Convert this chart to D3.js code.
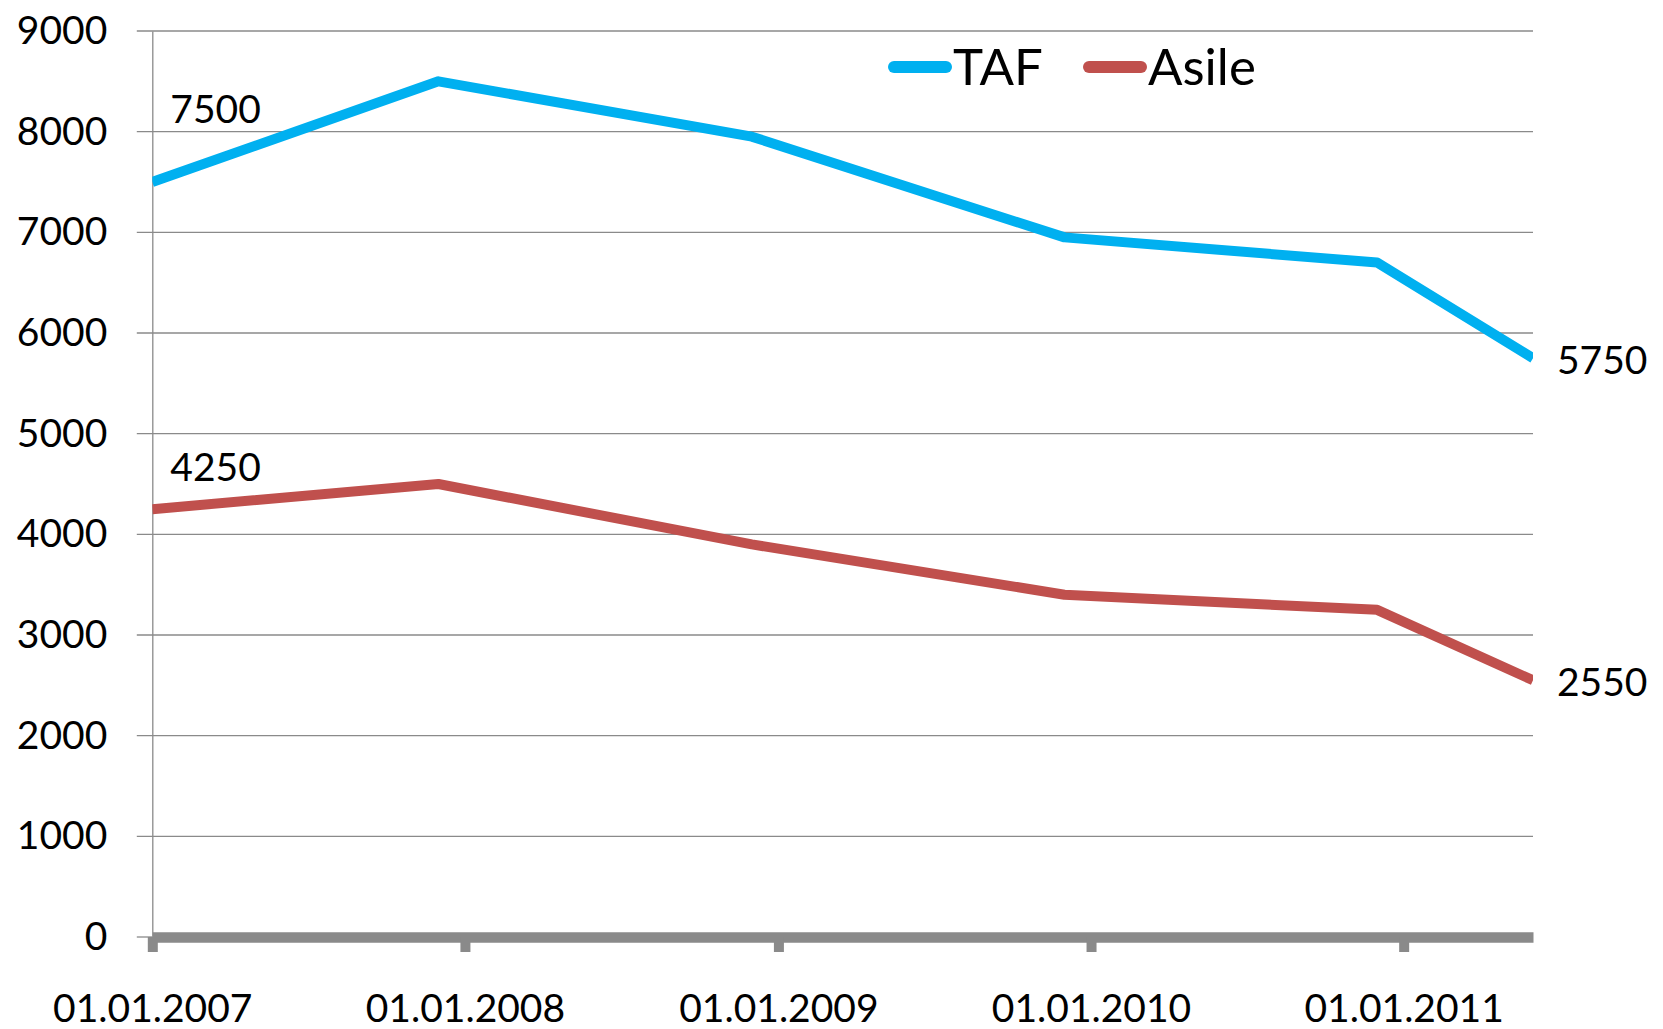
<!DOCTYPE html>
<html>
<head>
<meta charset="utf-8">
<script src="https://cdn.jsdelivr.net/npm/d3@7/dist/d3.min.js"></script>
<style>
  body { margin: 0; background: #fff; }
  svg { display: block; font-family: Lato, "Open Sans", sans-serif; }
</style>
</head>
<body>
<svg id="chart" width="1663" height="1029"></svg>
<script>
// data
const dates = ["2007-01-01", "2007-12-01", "2008-12-01", "2009-12-01", "2010-12-01", "2011-06-01"];
const tafValues = [7500, 8500, 7950, 6950, 6700, 5750];
const asileValues = [4250, 4500, 3900, 3400, 3250, 2550];
const seriesNames = ["TAF", "Asile"];
const seriesColors = ["#00b0f0", "#c0504d"];
const yTicks = [0, 1000, 2000, 3000, 4000, 5000, 6000, 7000, 8000, 9000];
const xTickDates = ["2007-01-01", "2008-01-01", "2009-01-01", "2010-01-01", "2011-01-01"];
const xTickLabels = ["01.01.2007", "01.01.2008", "01.01.2009", "01.01.2010", "01.01.2011"];

const parse = d3.utcParse("%Y-%m-%d");
const svg = d3.select('#chart');

const plot = { left: 152.3, right: 1533, top: 31, bottom: 937 };
const grey = "#8a8a8a";

const xScale = d3.scaleUtc()
    .domain([parse(dates[0]), parse(dates[dates.length - 1])])
    .range([plot.left, plot.right]);
const yScale = d3.scaleLinear()
    .domain([0, 9000])
    .range([plot.bottom, plot.top]);

// gridlines
svg.append('g').selectAll('line')
    .data(yTicks.slice(1))
    .enter()
    .append('line')
    .attr('x1', plot.left - 15.5)
    .attr('x2', plot.right)
    .attr('y1', d => yScale(d))
    .attr('y2', d => yScale(d))
    .attr('stroke', grey)
    .attr('stroke-width', 1.3);

// y axis (labels + small tick at zero)
const yAxis = d3.axisLeft(yScale)
    .tickValues(yTicks)
    .tickFormat(d3.format("d"))
    .tickSize(0)
    .tickPadding(45);
const gy = svg.append('g')
    .attr('transform', `translate(${plot.left},0)`)
    .call(yAxis);
gy.select('.domain')
    .attr('stroke', grey)
    .attr('stroke-width', 1.3);
gy.selectAll('text')
    .attr('font-size', 39)
    .attr('font-family', 'Lato')
    .attr('fill', '#000');
gy.append('line')
    .attr('x1', -15.5).attr('x2', 0)
    .attr('y1', yScale(0)).attr('y2', yScale(0))
    .attr('stroke', grey).attr('stroke-width', 1.3);

// x axis: thick line with stubby ticks
const xAxis = d3.axisBottom(xScale)
    .tickValues(xTickDates.map(parse))
    .tickFormat((d, i) => xTickLabels[i])
    .tickSizeInner(15)
    .tickSizeOuter(0);
const gx = svg.append('g')
    .attr('transform', `translate(0,${plot.bottom})`)
    .call(xAxis);
gx.select('.domain')
    .attr('stroke', grey)
    .attr('stroke-width', 10.6);
gx.selectAll('.tick line')
    .attr('stroke', grey)
    .attr('stroke-width', 10);
gx.selectAll('text')
    .attr('y', 71)
    .attr('dy', '0.35em')
    .attr('font-size', 39)
    .attr('font-family', 'Lato')
    .attr('fill', '#000');

// lines
svg.append('defs').append('clipPath').attr('id', 'plotclip')
    .append('rect')
    .attr('x', plot.left).attr('y', 0)
    .attr('width', plot.right - plot.left).attr('height', 1029);

const line = d3.line()
    .x(d => xScale(d.date))
    .y(d => yScale(d.value));

const series = [tafValues, asileValues].map((vals, k) => ({
    name: seriesNames[k],
    color: seriesColors[k],
    points: vals.map((v, i) => ({ date: parse(dates[i]), value: v }))
}));

svg.append('g').attr('clip-path', 'url(#plotclip)')
    .selectAll('path')
    .data(series)
    .enter()
    .append('path')
    .attr('d', d => line(d.points))
    .attr('fill', 'none')
    .attr('stroke', d => d.color)
    .attr('stroke-width', 10)
    .attr('stroke-linejoin', 'round');

// data labels on first and last points (hand-placed in the original)
const labelOffsets = [
    { first: [18, -73], last: [24, 2] },
    { first: [18, -42], last: [24, 2] }
];
series.forEach((s, k) => {
    const p0 = s.points[0];
    const p1 = s.points[s.points.length - 1];
    svg.append('text')
        .attr('x', xScale(p0.date) + labelOffsets[k].first[0])
        .attr('y', yScale(p0.value) + labelOffsets[k].first[1])
        .attr('dy', '0.35em')
        .attr('font-size', 39)
        .text(p0.value);
    svg.append('text')
        .attr('x', xScale(p1.date) + labelOffsets[k].last[0])
        .attr('y', yScale(p1.value) + labelOffsets[k].last[1])
        .attr('dy', '0.35em')
        .attr('font-size', 39)
        .text(p1.value);
});

// legend
const legendX = [894, 1089];
const legend = svg.append('g').selectAll('g')
    .data(series)
    .enter()
    .append('g')
    .attr('transform', (d, i) => `translate(${legendX[i]},67)`);
legend.append('line')
    .attr('x1', 0).attr('x2', 52)
    .attr('stroke', d => d.color)
    .attr('stroke-width', 12)
    .attr('stroke-linecap', 'round');
legend.append('text')
    .attr('x', 59)
    .attr('y', 18)
    .attr('font-size', 51)
    .text(d => d.name);
</script>
</body>
</html>
